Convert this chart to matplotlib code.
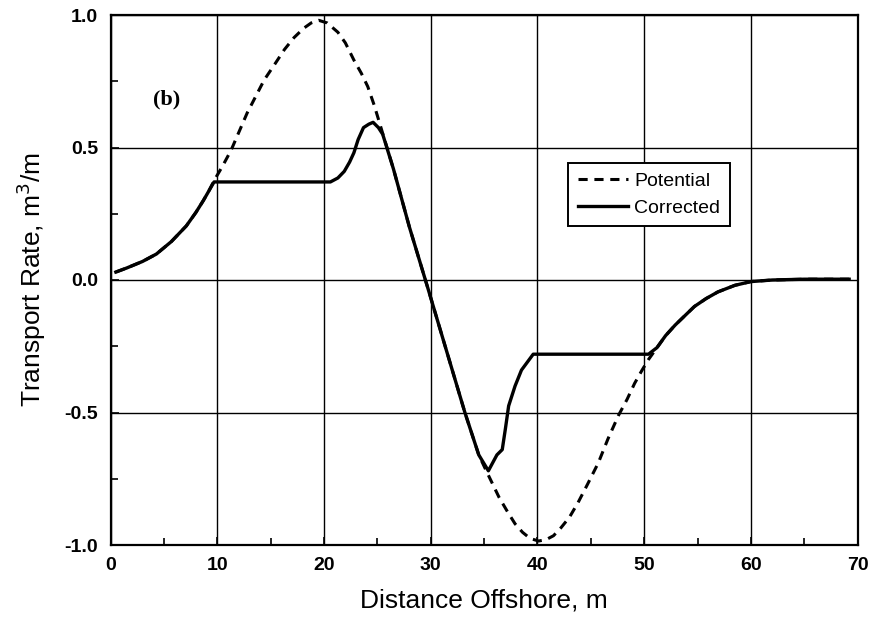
import numpy as np
import matplotlib
matplotlib.use("Agg")
import matplotlib.pyplot as plt
from matplotlib.ticker import MultipleLocator

plt.rcParams['font.family'] = ['Liberation Sans', 'DejaVu Sans']

# Potential transport (dashed)
pot_x = [0.5, 1.5, 3, 4.3, 5.7, 7.1, 8.0, 8.7, 9.2, 9.7, 10.5, 11.3, 12.8, 14.4,
         15.4, 16.3, 17.2, 18.1, 18.8, 19.5, 20.3, 21.3, 22.0, 22.8, 23.5, 24.1,
         24.7, 25.3, 26.5, 28, 29.8, 31.5, 33.2, 34.5, 35.2, 35.8, 36.4, 37.2,
         37.9, 38.6, 39.3, 40.1, 40.8, 41.5, 42.2, 43.0, 43.8, 44.7, 45.7, 46.6,
         47.6, 48.4, 49.1, 49.8, 50.4, 51.2, 52.0, 52.9, 53.8, 54.7, 55.8, 56.9,
         58.5, 60, 62, 65, 69.2]
pot_y = [0.03, 0.045, 0.07, 0.098, 0.145, 0.204, 0.255, 0.3, 0.335, 0.375, 0.43,
         0.49, 0.63, 0.755, 0.815, 0.87, 0.915, 0.95, 0.97, 0.98, 0.97, 0.935,
         0.895, 0.83, 0.78, 0.73, 0.66, 0.58, 0.42, 0.2, -0.04, -0.27, -0.5,
         -0.66, -0.72, -0.77, -0.82, -0.875, -0.92, -0.952, -0.975, -0.985,
         -0.98, -0.965, -0.935, -0.895, -0.84, -0.77, -0.69, -0.6, -0.51, -0.45,
         -0.39, -0.34, -0.30, -0.255, -0.21, -0.17, -0.135, -0.10, -0.07,
         -0.045, -0.02, -0.006, 0.0, 0.003, 0.003]

# Corrected transport (solid)
cor_x = [0.5, 1.5, 3, 4.3, 5.7, 7.1, 8.0, 8.7, 9.2, 9.7, 20.6, 21.3, 21.9, 22.4,
         22.8, 23.2, 23.7, 24.2, 24.6, 25.1, 25.5, 26.5, 28, 29.8, 31.5, 33.2,
         34.5, 35.4, 36.2, 36.7, 37.0, 37.3, 37.9, 38.5, 39.6, 50.4, 51.2, 52.0,
         52.9, 53.8, 54.7, 55.8, 56.9, 58.5, 60, 62, 65, 69.2]
cor_y = [0.03, 0.045, 0.07, 0.098, 0.145, 0.204, 0.255, 0.3, 0.335, 0.37, 0.37,
         0.385, 0.41, 0.445, 0.48, 0.53, 0.575, 0.588, 0.595, 0.575, 0.55, 0.42,
         0.2, -0.04, -0.27, -0.5, -0.66, -0.72, -0.66, -0.64, -0.56, -0.475,
         -0.40, -0.34, -0.28, -0.28, -0.255, -0.21, -0.17, -0.135, -0.10, -0.07,
         -0.045, -0.02, -0.006, 0.0, 0.003, 0.003]

fig = plt.figure(figsize=(8.77, 6.25), dpi=100)
ax = fig.add_axes([0.126, 0.128, 0.852, 0.848])

ax.plot(pot_x, pot_y, color='black', lw=2.2, ls=(0, (3, 2.2)), label='Potential')
ax.plot(cor_x, cor_y, color='black', lw=2.4, label='Corrected')

ax.set_xlim(0, 70)
ax.set_ylim(-1.0, 1.0)
ax.xaxis.set_major_locator(MultipleLocator(10))
ax.xaxis.set_minor_locator(MultipleLocator(5))
ax.yaxis.set_major_locator(MultipleLocator(0.5))
ax.yaxis.set_minor_locator(MultipleLocator(0.25))
ax.set_yticks([-1.0, -0.5, 0.0, 0.5, 1.0])
ax.set_yticklabels(['-1.0', '-0.5', '0.0', '0.5', '1.0'])
ax.grid(True, which='major', color='black', lw=1.0)
ax.tick_params(which='both', direction='in', top=False, right=False,
               labelsize=14)
ax.tick_params(axis='x', pad=9)
ax.tick_params(axis='y', pad=9)
ax.tick_params(which='major', length=6, width=1.2)
ax.tick_params(which='minor', length=5, width=1.2)
for lbl in ax.get_xticklabels() + ax.get_yticklabels():
    lbl.set_fontweight('bold')
for s in ax.spines.values():
    s.set_linewidth(1.6)

ax.set_xlabel('Distance Offshore, m', fontsize=19, labelpad=10)
ax.set_ylabel('Transport Rate, m$^3$/m', fontsize=19, labelpad=12)

ax.text(5.3, 0.68, '(b)', fontsize=16, fontweight='bold', family='Liberation Serif',
        ha='center', va='center')

leg = ax.legend(loc='upper left', bbox_to_anchor=(0.612, 0.721), fontsize=14,
                frameon=True, fancybox=False, shadow=False, handlelength=2.6,
                handletextpad=0.3, borderpad=0.5, labelspacing=0.45,
                borderaxespad=0)
leg.get_frame().set_edgecolor('black')
leg.get_frame().set_linewidth(1.4)
leg.get_frame().set_alpha(1)

fig.savefig('out.png', dpi=100)
